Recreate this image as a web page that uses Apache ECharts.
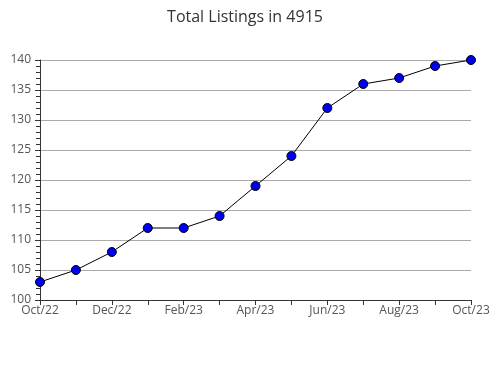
<!DOCTYPE html>
<html><head><meta charset="utf-8">
<script src="https://cdn.jsdelivr.net/npm/echarts@6/dist/echarts.min.js"></script>
<style>html,body{margin:0;padding:0;background:#fff}#c{width:490px;height:380px}</style>
</head><body><div id="c"></div>
<script>
const categories = ['Oct/22','Nov/22','Dec/22','Jan/23','Feb/23','Mar/23','Apr/23','May/23','Jun/23','Jul/23','Aug/23','Sep/23','Oct/23'];
const listings = [103,105,108,112,112,114,119,124,132,136,137,139,140];
const yTicks = {min:100,max:140,interval:5};
const chart = echarts.init(document.getElementById('c'));
chart.setOption({
  animation:false,
  title:{text:'Total Listings in 4915',left:'center',top:4,textStyle:{fontFamily:'Open Sans',fontWeight:'normal',fontSize:16,color:'#333'}},
  grid:{left:40,right:19,top:60,bottom:80,containLabel:false,outerBoundsMode:'none'},
  xAxis:{type:'category',data:categories,boundaryGap:false,
    axisLine:{lineStyle:{color:'#333'}},
    axisTick:{show:true,interval:0,length:5,lineStyle:{color:'#333'}},
    axisLabel:{interval:1,color:'#555',fontFamily:'Open Sans',fontSize:12,margin:5,hideOverlap:false},
    splitLine:{show:false}},
  yAxis:{type:'value',min:yTicks.min,max:yTicks.max,interval:yTicks.interval,
    axisLine:{show:true,lineStyle:{color:'#333'}},
    axisTick:{show:true,length:5,lineStyle:{color:'#333'}},
    minorTick:{show:true,splitNumber:5,length:4,lineStyle:{color:'#333'}},
    axisLabel:{color:'#555',fontFamily:'Open Sans',fontSize:12,margin:9},
    splitLine:{lineStyle:{color:'#aaa',width:1}}},
  series:[{type:'line',data:listings,symbol:'circle',symbolSize:9,
    lineStyle:{color:'#000',width:1},
    itemStyle:{color:'#0000ee',borderColor:'#000',borderWidth:1}}]
});
</script></body></html>
